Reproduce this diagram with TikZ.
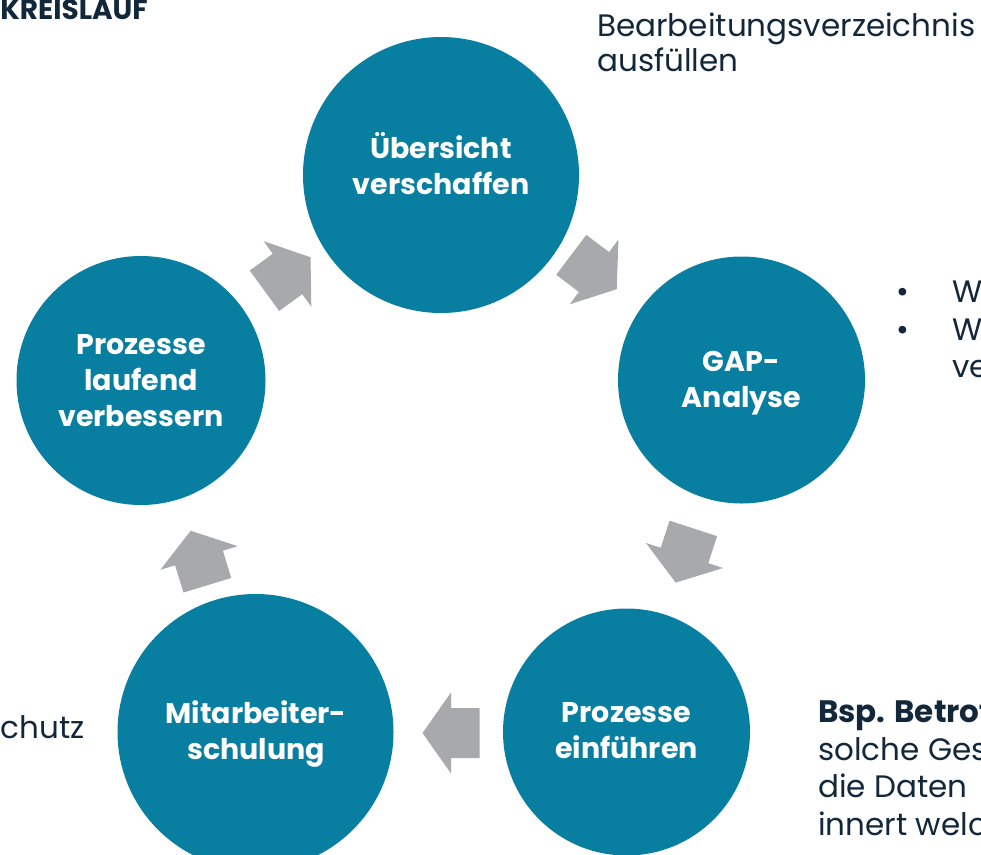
\documentclass[tikz,border=0pt]{standalone}
\usepackage{fontspec}
\setmainfont{Poppins}
\definecolor{cycteal}{HTML}{087FA1}
\definecolor{arrowgray}{HTML}{A7A9AC}
\definecolor{navytext}{HTML}{13273B}
\begin{document}
\begin{tikzpicture}[x=1pt,y=-1pt,
  stage/.style={circle, fill=cycteal, inner sep=0pt},
  stagetext/.style={text=white, font=\fontsize{28.5}{36}\selectfont\bfseries, align=center, inner sep=0pt},
  note/.style={text=navytext, font=\fontsize{31}{36}\selectfont, anchor=base west, inner sep=0pt},
  blockarrow/.pic={\fill[arrowgray] (-28.5,-25) -- (0,-25) -- (0,-40.5) -- (28.5,0) -- (0,40.5) -- (0,25) -- (-28.5,25) -- cycle;}
]
\useasboundingbox (0,0) rectangle (981,854);

% circles
\node[stage, minimum size=276] (c1) at (441,175) {};
\node[stage, minimum size=247] (c2) at (741.5,380) {};
\node[stage, minimum size=247] (c3) at (626.5,732) {};
\node[stage, minimum size=276] (c4) at (255.5,732) {};
\node[stage, minimum size=249] (c5) at (141,380.5) {};

% circle texts
\node[stagetext] (t1) at (441,164) {Übersicht\\verschaffen};
\node[stagetext] (t2) at (741.5,383) {GAP-\\Analyse};
\node[stagetext] (t3) at (626.5,731) {Prozesse\\einführen};
\node[stagetext] (t4) at (256,734) {Mitarbeiter-\\schulung};
\node[stagetext] (t5) at (141,381) {Prozesse\\laufend\\verbessern};

% arrows
\pic[rotate=-37] at (594,272) {blockarrow};
\pic[rotate=-108] at (684.5,555.5) {blockarrow};
\pic[rotate=180] at (451,733) {blockarrow};
\pic[rotate=107] at (199,558) {blockarrow};
\pic[rotate=36] at (287.5,274) {blockarrow};

% side texts
\node[text=navytext, font=\fontsize{28}{30}\selectfont\bfseries, anchor=base east, inner sep=0pt] (title) at (148,19) {KREISLAUF};
\node[note] (bv1) at (597,36) {Bearbeitungsverzeichnis};
\node[note] (bv2) at (597,71) {ausfüllen};
\node[note] (b1) at (896,302) {•};
\node[note] (w1) at (952,302) {W};
\node[note] (b2) at (896,340) {•};
\node[note] (w2) at (952,340) {W};
\node[note] (w3) at (952,377) {ve};
\node[note] (ds) at (0.5,738) {chutz};
\node[note, font=\fontsize{31}{36}\selectfont\bfseries] (e1) at (818,722) {Bsp. Betrof};
\node[note] (e2) at (818,760) {solche Ges};
\node[note] (e3) at (818,797) {die Daten};
\node[note] (e4) at (818,835) {innert welc};
\end{tikzpicture}
\end{document}
